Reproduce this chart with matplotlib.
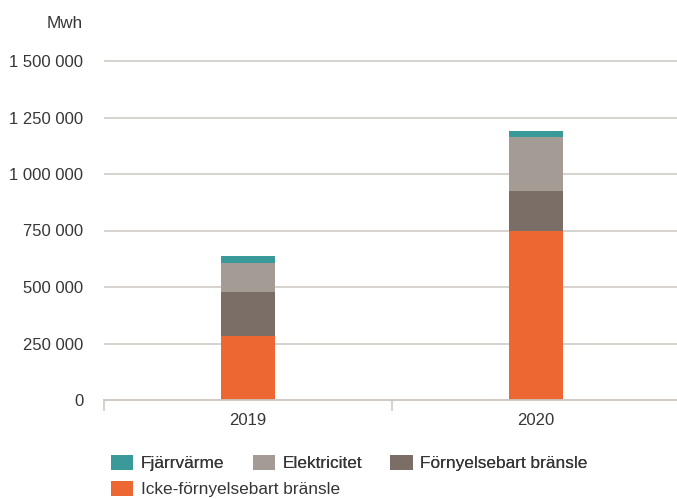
import matplotlib
matplotlib.use("Agg")
import matplotlib.pyplot as plt
from matplotlib.patches import Patch
import numpy as np

# Data (MWh)
years = ["2019", "2020"]
icke_fornyelsebart = [285000, 747000]
fornyelsebart = [195000, 179000]
elektricitet = [128000, 236000]
fjarrvarme = [27000, 29000]

y_ticks = [0, 250000, 500000, 750000, 1000000, 1250000, 1500000]
y_ticklabels = ["0", "250 000", "500 000", "750 000", "1 000 000", "1 250 000", "1 500 000"]

series = [
    ("Icke-förnyelsebart bränsle", icke_fornyelsebart, "#ec6731"),
    ("Förnyelsebart bränsle", fornyelsebart, "#7a6e66"),
    ("Elektricitet", elektricitet, "#a39b94"),
    ("Fjärrvärme", fjarrvarme, "#3a9a9a"),
]

plt.rcParams["font.family"] = ["Liberation Sans", "DejaVu Sans"]
text_color = "#363636"
grid_color = "#cbc6c0"

W, H = 677, 499
fig = plt.figure(figsize=(W / 100, H / 100), dpi=100)

# Axes placement in pixels
left_px, right_px, base_px = 104, 680, 400
ymax = 1520000
px_per_unit = (400 - 61) / 1500000
top_px = base_px - ymax * px_per_unit
ax = fig.add_axes([left_px / W, (H - base_px) / H,
                   (right_px - left_px) / W, (base_px - top_px) / H])

x = np.arange(len(years))
bottom = np.zeros(len(years))
for name, vals, col in series:
    ax.bar(x, vals, width=0.1875, bottom=bottom, color=col, zorder=3)
    bottom += np.array(vals)

ax.set_xlim(-0.5, len(years) - 0.5)
ax.set_ylim(0, ymax)

# Gridlines
for t in y_ticks[1:]:
    ax.axhline(t, color=grid_color, lw=1.1, zorder=1)

ax.set_yticks(y_ticks)
ax.set_yticklabels(y_ticklabels)
ax.tick_params(axis="y", length=0, pad=15, labelsize=12, labelcolor=text_color)

ax.set_xticks(x)
ax.set_xticklabels(years)
ax.set_xticks(np.arange(-0.5, len(years)), minor=True)
ax.tick_params(axis="x", which="major", length=0, pad=9.5, labelsize=12, labelcolor=text_color)
ax.tick_params(axis="x", which="minor", length=8, width=1.1, color=grid_color)

for s in ["left", "right", "top"]:
    ax.spines[s].set_visible(False)
ax.spines["bottom"].set_color(grid_color)
ax.spines["bottom"].set_linewidth(1.3)
ax.spines["bottom"].set_zorder(4)

fig.text(83 / W, (H - 23) / H, "Mwh", ha="right", va="center",
         fontsize=12.3, color=text_color)

# Legend laid out as flowing rows
handles = {name: Patch(facecolor=col, edgecolor="none") for name, vals, col in series}
row1 = ["Fjärrvärme", "Elektricitet", "Förnyelsebart bränsle"]
row2 = ["Icke-förnyelsebart bränsle"]
common = dict(frameon=False, fontsize=12.4, handlelength=1.3, handleheight=1.0,
              handletextpad=0.42, columnspacing=1.65, borderpad=0,
              borderaxespad=0, labelcolor=text_color, loc="center left")
leg1 = fig.legend([handles[n] for n in row1], row1, ncol=3,
                  bbox_to_anchor=(111 / W, (H - 463) / H), **common)
fig.add_artist(leg1)
fig.legend([handles[n] for n in row2], row2, ncol=1,
           bbox_to_anchor=(111 / W, (H - 489) / H), **common)

fig.savefig("out.png", dpi=100)
